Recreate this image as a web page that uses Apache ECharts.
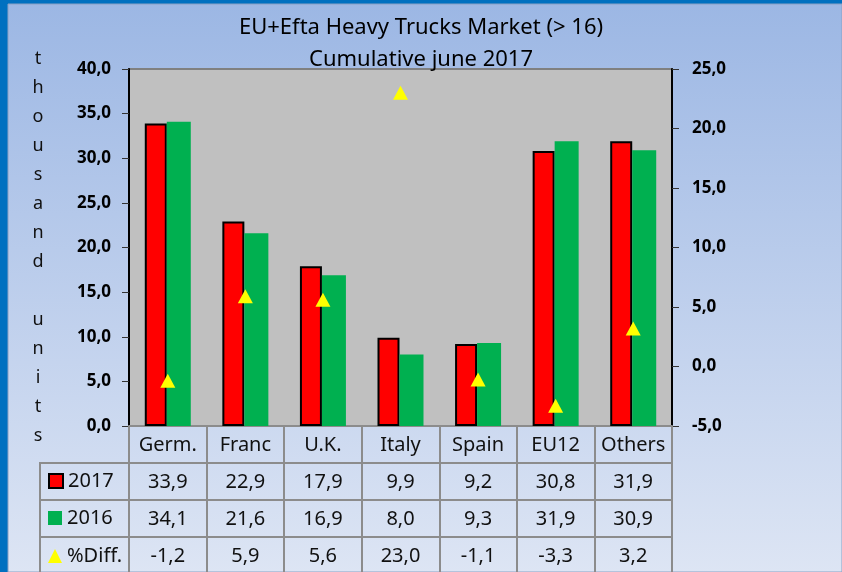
<!DOCTYPE html>
<html>
<head>
<meta charset="utf-8">
<script src="https://cdn.jsdelivr.net/npm/echarts@6/dist/echarts.min.js"></script>
<style>
  html, body { margin: 0; padding: 0; background: #0070c0; }
  #chart { width: 842px; height: 572px; }
</style>
</head>
<body>
<div id="chart"></div>
<script>
// data
const categories = ['Germ.', 'Franc', 'U.K.', 'Italy', 'Spain', 'EU12', 'Others'];
const values2017 = [33.9, 22.9, 17.9, 9.9, 9.2, 30.8, 31.9];
const values2016 = [34.1, 21.6, 16.9, 8.0, 9.3, 31.9, 30.9];
const pctDiff = [-1.2, 5.9, 5.6, 23.0, -1.1, -3.3, 3.2];
const seriesNames = ['2017', '2016', '%Diff.'];
const legendIcons = ['rect', 'rect', 'triangle'];

const FONT = 'Noto Sans';
const GRID = { left: 129, right: 170, top: 69, bottom: 146 };
const TABLE_LINE = '#8c8c8c';

// comma decimals like the source sheet
function fmt(v) {
  return v.toFixed(1).replace('.', ',');
}

// one x axis per table row, sharing the category scale
function tableAxis(arr, offset) {
  return {
    type: 'category',
    data: categories,
    gridIndex: 0,
    position: 'bottom',
    offset: offset,
    axisLine: { show: true, onZero: false, lineStyle: { color: TABLE_LINE, width: 2 } },
    axisTick: { show: false },
    axisLabel: {
      interval: 0,
      margin: 9,
      fontFamily: FONT,
      fontSize: 20,
      color: '#111',
      formatter: (val, idx) => fmt(arr[idx])
    }
  };
}

const chart = echarts.init(document.getElementById('chart'), null, { renderer: 'canvas' });

const option = {
  backgroundColor: '#0070c0',
  animation: false,
  textStyle: { fontFamily: FONT },
  title: {
    text: 'EU+Efta Heavy Trucks Market (> 16)\nCumulative june 2017',
    left: 'center',
    top: 12,
    padding: 0,
    textStyle: {
      fontFamily: FONT,
      fontSize: 22,
      fontWeight: 'normal',
      color: '#000',
      lineHeight: 32
    }
  },
  graphic: [
    {
      type: 'rect',
      z: -10,
      silent: true,
      shape: { x: 8, y: 4, width: 834, height: 568 },
      style: {
        fill: new echarts.graphic.LinearGradient(0, 0, 0, 1, [
          { offset: 0, color: '#9cb7e4' },
          { offset: 1, color: '#dde5f4' }
        ]),
        stroke: '#8aa0c4',
        lineWidth: 1
      }
    },
    // left column of the data table
    { type: 'line', silent: true, shape: { x1: 40, y1: 463, x2: 129, y2: 463 }, style: { stroke: TABLE_LINE, lineWidth: 2 } },
    { type: 'line', silent: true, shape: { x1: 40, y1: 500, x2: 129, y2: 500 }, style: { stroke: TABLE_LINE, lineWidth: 2 } },
    { type: 'line', silent: true, shape: { x1: 40, y1: 537, x2: 129, y2: 537 }, style: { stroke: TABLE_LINE, lineWidth: 2 } },
    { type: 'line', silent: true, shape: { x1: 40, y1: 462, x2: 40, y2: 572 }, style: { stroke: TABLE_LINE, lineWidth: 2 } }
  ],
  legend: [0, 1, 2].map((i) => ({
    data: [{ name: seriesNames[i], icon: legendIcons[i] }],
    left: 48,
    top: [471, 508, 546][i],
    padding: 0,
    itemWidth: 14,
    itemHeight: 14,
    itemGap: 0,
    selectedMode: false,
    textStyle: { fontFamily: FONT, fontSize: 20, color: '#111', lineHeight: 20 }
  })),
  grid: {
    left: GRID.left,
    right: GRID.right,
    top: GRID.top,
    bottom: GRID.bottom,
    show: true,
    backgroundColor: '#c0c0c0',
    borderColor: '#808080',
    borderWidth: 2
  },
  xAxis: [
    {
      type: 'category',
      data: categories,
      position: 'bottom',
      axisLine: { show: true, onZero: false, lineStyle: { color: TABLE_LINE, width: 2 } },
      axisTick: {
        show: true,
        interval: 0,
        length: 146,
        lineStyle: { color: TABLE_LINE, width: 2 }
      },
      axisLabel: {
        interval: 0,
        margin: 9,
        fontFamily: FONT,
        fontSize: 20,
        color: '#111'
      }
    },
    tableAxis(values2017, 37),
    tableAxis(values2016, 74),
    tableAxis(pctDiff, 111)
  ],
  yAxis: [
    {
      type: 'value',
      min: 0,
      max: 40,
      interval: 5,
      position: 'left',
      name: 'thousand units'.split('').join('\n'),
      nameLocation: 'middle',
      nameRotate: 0,
      nameGap: 91,
      nameTextStyle: {
        fontFamily: FONT,
        fontSize: 18,
        color: '#111',
        lineHeight: 29,
        align: 'center',
        verticalAlign: 'middle'
      },
      axisLine: { show: true, lineStyle: { color: '#000', width: 2 } },
      axisTick: { show: true, length: 7, lineStyle: { color: '#333', width: 1 } },
      splitLine: { show: false },
      axisLabel: {
        margin: 18,
        fontFamily: FONT,
        fontSize: 17,
        fontWeight: 'bold',
        color: '#000',
        formatter: (v) => fmt(v)
      }
    },
    {
      type: 'value',
      min: -5,
      max: 25,
      interval: 5,
      position: 'right',
      axisLine: { show: true, lineStyle: { color: '#000', width: 2 } },
      axisTick: { show: true, length: 7, lineStyle: { color: '#333', width: 1 } },
      splitLine: { show: false },
      axisLabel: {
        margin: 20,
        fontFamily: FONT,
        fontSize: 17,
        fontWeight: 'bold',
        color: '#000',
        formatter: (v) => fmt(v)
      }
    }
  ],
  series: [
    {
      name: seriesNames[0],
      type: 'bar',
      xAxisIndex: 0,
      yAxisIndex: 0,
      data: values2017,
      barWidth: 22,
      barGap: '0%',
      itemStyle: { color: '#ff0000', borderColor: '#000', borderWidth: 2 }
    },
    {
      name: seriesNames[1],
      type: 'bar',
      xAxisIndex: 0,
      yAxisIndex: 0,
      data: values2016,
      barWidth: 24,
      barGap: '0%',
      itemStyle: { color: '#00b050' }
    },
    {
      name: seriesNames[2],
      type: 'scatter',
      xAxisIndex: 0,
      yAxisIndex: 1,
      data: pctDiff,
      symbol: 'triangle',
      symbolSize: [15, 14],
      itemStyle: { color: '#ffff00', opacity: 1 },
      z: 5
    }
  ]
};

chart.setOption(option);
</script>
</body>
</html>
